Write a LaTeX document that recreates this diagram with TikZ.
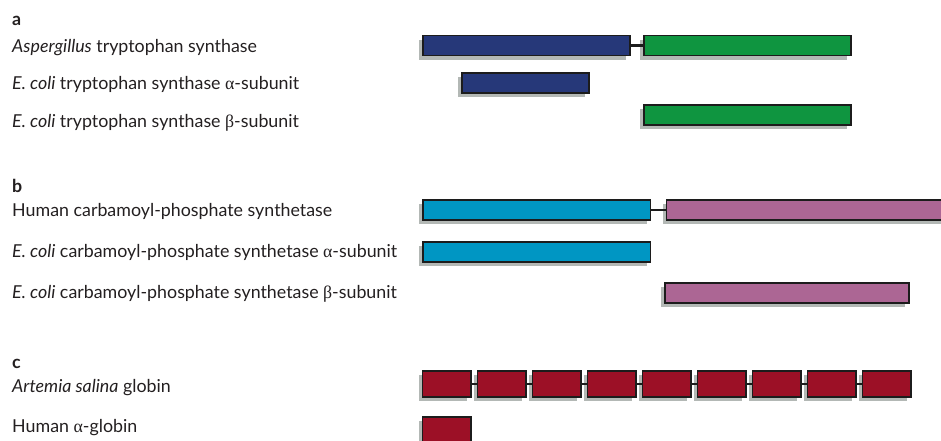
\documentclass[tikz,border=0pt]{standalone}
\usepackage{fontspec}
\setmainfont{Lato}
\newfontfamily\grk{Liberation Serif}
\usetikzlibrary{shadows}
\definecolor{navy}{HTML}{263879}
\definecolor{grn}{HTML}{0F9540}
\definecolor{cyanbar}{HTML}{0096C3}
\definecolor{pinkbar}{HTML}{AC6694}
\definecolor{redbar}{HTML}{9C1026}
\definecolor{shadowgray}{HTML}{B3B8B5}
\definecolor{barline}{HTML}{1C1C1C}
\definecolor{txt}{HTML}{231F20}
\newcommand\galpha{{\grk\large α}}
\newcommand\gbeta{{\grk\large β}}
\newlength\reftw
\begin{document}
\settowidth\reftw{\fontsize{10pt}{12pt}\selectfont Human carbamoyl-phosphate synthetase}%
\pgfmathsetmacro\fsz{10*320/\reftw}%
\begin{tikzpicture}[x=1pt,y=-1pt]
\useasboundingbox (0,0) rectangle (941,440);
\tikzset{
  barbox/.style={draw=barline, line width=1.2pt, fill=#1, inner sep=0pt, outer sep=0pt,
    anchor=north west,
    drop shadow={shadow xshift=-4pt, shadow yshift=-4pt, fill=shadowgray, opacity=1}},
  linker/.style={draw=barline, line width=2.4pt},
  lbl/.style={anchor=base west, inner sep=0pt, text=txt, font=\fontsize{\fsz pt}{\fsz pt}\selectfont},
  head/.style={lbl, font=\fontsize{\fsz pt}{\fsz pt}\selectfont\bfseries}
}
% panel a
\node[head] (la) at (12,25) {a};
\node[lbl] (t1) at (12,52) {\textit{Aspergillus} tryptophan synthase};
\node[lbl] (t2) at (12,89.5) {\textit{E. coli} tryptophan synthase {\grk α}-subunit};
\node[lbl] (t3) at (12,127) {\textit{E. coli} tryptophan synthase {\grk β}-subunit};
\node[barbox=navy, minimum width=207pt, minimum height=20pt] (a1) at (423,35.5) {};
\node[barbox=grn, minimum width=207pt, minimum height=20pt] (a2) at (644,35.5) {};
\node[barbox=navy, minimum width=127pt, minimum height=20pt] (a3) at (462,73) {};
\node[barbox=grn, minimum width=207pt, minimum height=20pt] (a4) at (644,105) {};
\draw[linker] (a1.east) -- (a2.west);
% panel b
\node[head] (lb) at (12,192.5) {b};
\node[lbl] (t4) at (12,216.5) {Human carbamoyl-phosphate synthetase};
\node[lbl] (t5) at (12,257.5) {\textit{E. coli} carbamoyl-phosphate synthetase {\grk α}-subunit};
\node[lbl] (t6) at (12,298.5) {\textit{E. coli} carbamoyl-phosphate synthetase {\grk β}-subunit};
\node[barbox=cyanbar, minimum width=227.5pt, minimum height=20pt] (b1) at (423,200) {};
\node[barbox=pinkbar, minimum width=290pt, minimum height=20pt] (b2) at (666.5,200) {};
\node[barbox=cyanbar, minimum width=227.5pt, minimum height=20pt] (b3) at (423,242) {};
\node[barbox=pinkbar, minimum width=244pt, minimum height=20pt] (b4) at (665,283) {};
\draw[linker] (b1.east) -- (b2.west);
% panel c
\node[head] (lc) at (12,368.5) {c};
\node[lbl] (t7) at (12,392.5) {\textit{Artemia salina} globin};
\node[lbl] (t8) at (12,432.5) {Human {\grk α}-globin};
\foreach \k in {1,...,9}
  \node[barbox=redbar, minimum width=48.5pt, minimum height=26pt] (c\k) at ({422.5+55*(\k-1)},371) {};
\foreach \k [evaluate=\k as \n using int(\k+1)] in {1,...,8}
  \draw[linker] (c\k.east) -- (c\n.west);
\node[barbox=redbar, minimum width=48.5pt, minimum height=26pt] (c10) at (422.5,417) {};
\end{tikzpicture}
\end{document}
